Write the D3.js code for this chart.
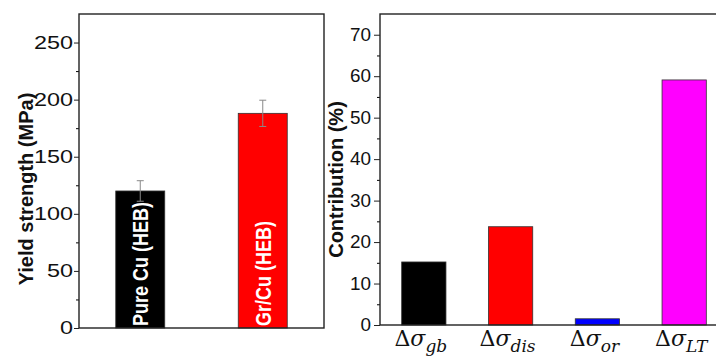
<!DOCTYPE html>
<html>
<head>
<meta charset="utf-8">
<script src="https://cdn.jsdelivr.net/npm/d3@7"></script>
<style>
body { margin: 0; background: #fff; }
text { font-family: "Liberation Sans", Arial, sans-serif; }
</style>
</head>
<body>
<script>
// left panel data
var samples = ["Pure Cu (HEB)", "Gr/Cu (HEB)"];
var strength = [120, 188];
var strengthErr = [9, 11.5];
var sampleColors = ["#000000", "#ff0000"];
var strengthTicks = [0, 50, 100, 150, 200, 250];

// right panel data
var mechs = ["gb", "dis", "or", "LT"];
var contribution = [15.2, 23.7, 1.5, 59.1];
var mechColors = ["#000000", "#ff0000", "#0000ff", "#ff00ff"];
var contribTicks = [0, 10, 20, 30, 40, 50, 60, 70];

var svg = d3.select("body").append("svg")
  .attr("width", 716)
  .attr("height", 358);

// stretch tick labels sideways (the left panel of the original is wider)
function styleTicks(g, size, sx, gap) {
  g.selectAll(".tick text")
    .style("font-size", size + "px")
    .attr("fill", "#111")
    .attr("x", -gap / sx)
    .attr("transform", "scale(" + sx + ",1)");
  g.selectAll(".tick line").attr("stroke", "#222");
}

// ---- left panel ----
var L = {left: 79, right: 324, top: 14, bottom: 328};
var x1 = d3.scaleBand().domain(samples).range([L.left, L.right]).paddingInner(0.6).paddingOuter(0.3);
var y1 = d3.scaleLinear().domain([0, 275]).range([L.bottom, L.top]);

var g1 = svg.append("g");
g1.selectAll("rect.bar").data(samples).enter().append("rect")
  .attr("x", function(d) { return x1(d); })
  .attr("width", x1.bandwidth())
  .attr("y", function(d, i) { return y1(strength[i]); })
  .attr("height", function(d, i) { return y1(0) - y1(strength[i]); })
  .attr("fill", function(d, i) { return sampleColors[i]; })
  .attr("stroke", "#333")
  .attr("stroke-width", 0.8);

// error bars
g1.selectAll("g.err").data(samples).enter().append("g").each(function(d, i) {
  var cx = x1(d) + x1.bandwidth() / 2;
  var e = d3.select(this);
  e.append("line").attr("x1", cx).attr("x2", cx)
    .attr("y1", y1(strength[i] - strengthErr[i])).attr("y2", y1(strength[i] + strengthErr[i]));
  e.append("line").attr("x1", cx - 3.5).attr("x2", cx + 3.5)
    .attr("y1", y1(strength[i] + strengthErr[i])).attr("y2", y1(strength[i] + strengthErr[i]));
  e.append("line").attr("x1", cx - 3.5).attr("x2", cx + 3.5)
    .attr("y1", y1(strength[i] - strengthErr[i])).attr("y2", y1(strength[i] - strengthErr[i]));
  e.selectAll("line").attr("stroke", "#888").attr("stroke-width", 1);
});

// labels inside bars
g1.selectAll("text.blabel").data(samples).enter().append("text")
  .attr("transform", function(d) {
    return "translate(" + (x1(d) + x1.bandwidth() / 2 + 8) + "," + (L.bottom - 2) + ") scale(1.2,1) rotate(-90)";
  })
  .attr("fill", "#fff")
  .style("font-weight", "bold")
  .style("font-size", "18px")
  .text(function(d) { return d; });

// axes
var ax1 = g1.append("g").attr("transform", "translate(" + L.left + ",0)")
  .call(d3.axisLeft(y1).tickValues(strengthTicks).tickSize(5));
g1.append("g").attr("transform", "translate(" + L.left + ",0)")
  .call(d3.axisLeft(y1).tickValues(d3.range(25, 275, 50)).tickSize(3).tickFormat(""))
  .select(".domain").remove();
ax1.select(".domain").remove();
styleTicks(ax1, 18, 1.3, 6);

g1.append("rect")
  .attr("x", L.left).attr("y", L.top)
  .attr("width", L.right - L.left).attr("height", L.bottom - L.top)
  .attr("fill", "none").attr("stroke", "#222").attr("stroke-width", 1.4);

g1.append("text")
  .attr("transform", "translate(33," + ((L.top + L.bottom) / 2 + 18) + ") rotate(-90)")
  .attr("text-anchor", "middle")
  .style("font-weight", "bold")
  .style("font-size", "20px")
  .attr("fill", "#111")
  .text("Yield strength (MPa)");

// ---- right panel ----
var R = {left: 380, right: 728, top: 14, bottom: 325};
var x2 = d3.scaleBand().domain(mechs).range([R.left, R.right]).paddingInner(0.49).paddingOuter(0.25);
var y2 = d3.scaleLinear().domain([0, 75]).range([R.bottom, R.top]);

var g2 = svg.append("g");
g2.selectAll("rect.bar").data(mechs).enter().append("rect")
  .attr("x", function(d) { return x2(d); })
  .attr("width", x2.bandwidth())
  .attr("y", function(d, i) { return y2(contribution[i]); })
  .attr("height", function(d, i) { return y2(0) - y2(contribution[i]); })
  .attr("fill", function(d, i) { return mechColors[i]; })
  .attr("stroke", "#333")
  .attr("stroke-width", 0.8);

var ax2 = g2.append("g").attr("transform", "translate(" + R.left + ",0)")
  .call(d3.axisLeft(y2).tickValues(contribTicks).tickSize(6));
g2.append("g").attr("transform", "translate(" + R.left + ",0)")
  .call(d3.axisLeft(y2).tickValues(d3.range(5, 75, 10)).tickSize(3).tickFormat(""))
  .select(".domain").remove();
ax2.select(".domain").remove();
styleTicks(ax2, 17.5, 1.08, 9);

g2.append("rect")
  .attr("x", R.left).attr("y", R.top)
  .attr("width", R.right - R.left).attr("height", R.bottom - R.top)
  .attr("fill", "none").attr("stroke", "#222").attr("stroke-width", 1.4);

g2.append("text")
  .attr("transform", "translate(343," + ((R.top + R.bottom) / 2 + 10) + ") rotate(-90)")
  .attr("text-anchor", "middle")
  .style("font-weight", "bold")
  .style("font-size", "20px")
  .attr("fill", "#111")
  .text("Contribution (%)");

// category labels: Δσ with italic subscript
var lab = g2.selectAll("text.mlabel").data(mechs).enter().append("text")
  .attr("x", function(d) { return x2(d) + x2.bandwidth() / 2 - 3; })
  .attr("y", 346)
  .attr("text-anchor", "middle")
  .style("font-family", "'DejaVu Serif', 'Liberation Serif', serif")
  .style("font-size", "22px")
  .attr("fill", "#111");
lab.append("tspan").text("Δ");
lab.append("tspan").style("font-style", "italic").text("σ");
lab.append("tspan").attr("dy", 6).style("font-style", "italic").style("font-size", "17px")
  .text(function(d) { return d; });
</script>
</body>
</html>
